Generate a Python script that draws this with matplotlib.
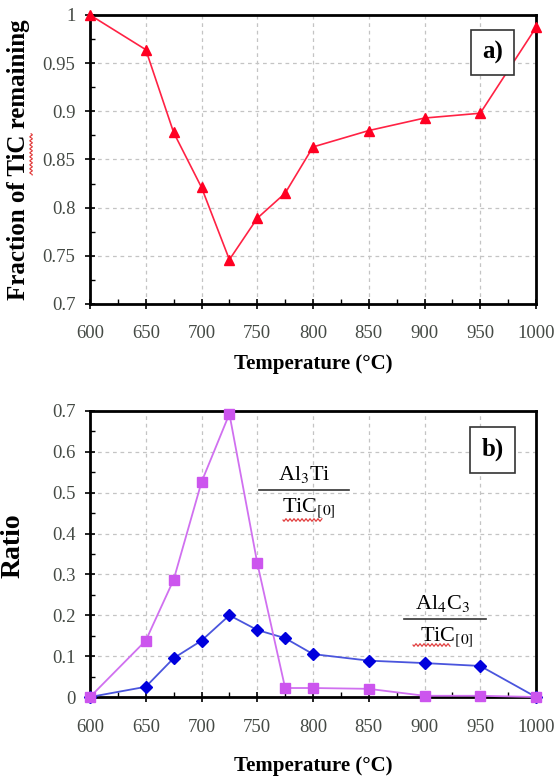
import matplotlib
matplotlib.use("Agg")
import numpy as np
import matplotlib.pyplot as plt
from matplotlib.ticker import MultipleLocator, FuncFormatter

plt.rcParams['font.family'] = ['Liberation Serif', 'DejaVu Serif']
plt.rcParams['mathtext.fontset'] = 'stix'

temp = [600, 650, 675, 700, 725, 750, 775, 800, 850, 900, 950, 1000]
tic_fraction = [1.0, 0.964, 0.878, 0.821, 0.746, 0.789, 0.815, 0.863, 0.880, 0.893, 0.898, 0.987]
al3ti_ratio = [0.0, 0.138, 0.287, 0.526, 0.693, 0.328, 0.022, 0.022, 0.020, 0.003, 0.003, 0.0]
al4c3_ratio = [0.0, 0.025, 0.095, 0.138, 0.200, 0.164, 0.144, 0.105, 0.089, 0.083, 0.076, 0.0]

W, H = 554, 780
fig = plt.figure(figsize=(W / 100, H / 100), dpi=100)
ax1 = fig.add_axes([0.1625, 0.6103, 0.805, 0.3705])
ax2 = fig.add_axes([0.1625, 0.1064, 0.805, 0.3667])

fmt = FuncFormatter(lambda v, p: f"{v:g}")

def style(ax, ymin, ymax, ymaj, ymin_step, xlpad):
    ax.set_xlim(600, 1000)
    ax.set_ylim(ymin, ymax)
    ax.xaxis.set_major_locator(MultipleLocator(50))
    ax.xaxis.set_minor_locator(MultipleLocator(25))
    ax.yaxis.set_major_locator(MultipleLocator(ymaj))
    ax.yaxis.set_minor_locator(MultipleLocator(ymin_step))
    ax.yaxis.set_major_formatter(fmt)
    ax.grid(True, which='major', linestyle=(0, (3, 3)), color='#c4c4c4', linewidth=0.9)
    ax.set_axisbelow(True)
    for s in ax.spines.values():
        s.set_linewidth(2.0)
        s.set_color('black')
    ax.tick_params(which='major', direction='inout', length=7, width=1.2,
                   labelsize=13.5, labelcolor='#454a45', pad=7, top=False, right=False)
    ax.tick_params(axis='x', which='major', pad=12)
    ax.tick_params(which='minor', direction='in', length=3.5, width=1.0, top=False, right=False)
    ax.set_xlabel('Temperature (°C)', fontsize=15, fontweight='bold', labelpad=xlpad)

boxprops = dict(boxstyle='square,pad=0.45', facecolor='white', edgecolor='#333333', linewidth=1.2)

style(ax1, 0.7, 1.0, 0.05, 0.025, 8)
ax1.plot(temp, tic_fraction, color='#ff2244', linewidth=1.2, marker='^',
         markersize=7.5, markerfacecolor='#ff0022', markeredgecolor='#ff0022', clip_on=False, zorder=3)
ylab = ax1.set_ylabel('Fraction of TiC remaining', fontsize=18, fontweight='bold', labelpad=9)
ax1.text(0.903, 0.870, 'a)', transform=ax1.transAxes, fontsize=18, fontweight='bold',
         ha='center', va='center', bbox=boxprops)

style(ax2, 0.0, 0.7, 0.1, 0.05, 15)
ax2.plot(temp, al3ti_ratio, color='#d070f0', linewidth=1.3, marker='s',
         markersize=7, markerfacecolor='#cc55ee', markeredgecolor='#cc55ee', clip_on=False, zorder=4)
ax2.plot(temp, al4c3_ratio, color='#4a55dd', linewidth=1.3, marker='D',
         markersize=6, markerfacecolor='#0000dd', markeredgecolor='#0000dd', clip_on=False, zorder=3)
ax2.set_ylabel('Ratio', fontsize=20, fontweight='bold', labelpad=12)
ax2.yaxis.set_label_coords(-0.145, 0.53)
ax2.text(0.903, 0.865, 'b)', transform=ax2.transAxes, fontsize=18, fontweight='bold',
         ha='center', va='center', bbox=boxprops)

# fraction labels
ax2.text(0.48, 0.74, 'Al$_3$Ti', transform=ax2.transAxes, fontsize=16, ha='center', va='bottom')
ax2.plot([0.38, 0.58], [0.723, 0.723], transform=ax2.transAxes, color='#333333', linewidth=1.2)
ax2.text(0.49, 0.70, 'TiC$_{[0]}$', transform=ax2.transAxes, fontsize=16, ha='center', va='top')

ax2.text(0.79, 0.29, 'Al$_4$C$_3$', transform=ax2.transAxes, fontsize=16, ha='center', va='bottom')
ax2.plot([0.705, 0.888], [0.273, 0.273], transform=ax2.transAxes, color='#333333', linewidth=1.2)
ax2.text(0.80, 0.25, 'TiC$_{[0]}$', transform=ax2.transAxes, fontsize=16, ha='center', va='top')

# red wavy spell-check underlines (decoration), in figure pixels (from top-left)
def wavy(x0, x1, y, vertical=False):
    t = np.linspace(0, 1, 120)
    a = x0 + (x1 - x0) * t
    b = y + 1.2 * np.sin(2 * np.pi * (x1 - x0) * t / 4.0)
    if vertical:
        xs, ys = b, a
    else:
        xs, ys = a, b
    fig.add_artist(plt.Line2D(xs / W, 1 - ys / H, transform=fig.transFigure,
                              color='#e03030', linewidth=0.8))

wavy(283, 322, 520)
wavy(413, 450, 645)

# locate "TiC" inside the rotated y label to underline it
fig.canvas.draw()
r = fig.canvas.get_renderer()
bb = ylab.get_window_extent(r)
def textlen(s):
    t = fig.text(0, 0, s, fontsize=18, fontweight='bold')
    w = t.get_window_extent(r).width
    t.remove()
    return w
full = textlen('Fraction of TiC remaining')
pre = textlen('Fraction of ')
tic = textlen('TiC')
scale = bb.height / full
y_start = H - (bb.y0 + pre * scale)
y_end = H - (bb.y0 + (pre + tic) * scale)
x_line = W - (W - bb.x1) + 1  # just right of the label's baseline side
wavy(y_end, y_start, bb.x1 + 1, vertical=True)

fig.savefig('out.png', dpi=100)
